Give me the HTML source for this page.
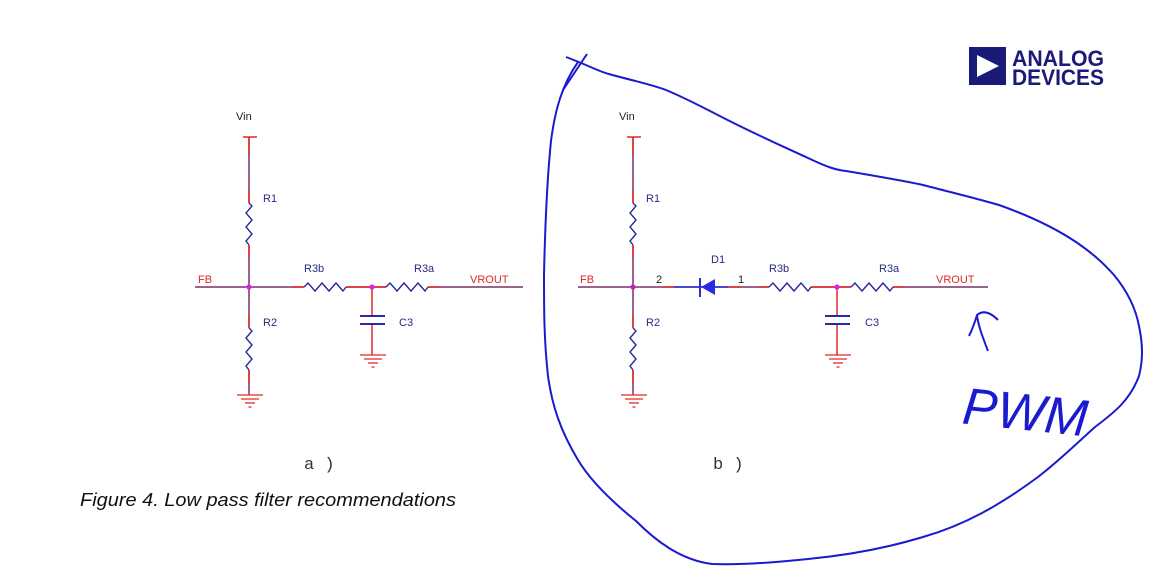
<!DOCTYPE html>
<html><head><meta charset="utf-8"><style>
html,body{margin:0;padding:0;background:#fff;}
svg{display:block;}
.s{font-family:"Liberation Sans",sans-serif;}
.m{font-family:"Liberation Mono",monospace;}
</style></head><body>
<svg width="1161" height="567" viewBox="0 0 1161 567" xmlns="http://www.w3.org/2000/svg">
<defs>
<g id="gnd" stroke="#e02828" stroke-width="1.3">
<line x1="-13" y1="0" x2="13" y2="0"/><line x1="-9" y1="4" x2="9" y2="4"/><line x1="-5" y1="8" x2="5" y2="8"/><line x1="-1.5" y1="12" x2="1.5" y2="12"/>
</g>
<path id="rv" d="M0,0 l3,3 l-6,7 l6,7 l-6,7 l6,7 l-6,7 l3,4" fill="none" stroke="#2a2aa0" stroke-width="1.4"/>
<path id="rh" d="M0,0 l4,-4 l7,8 l7,-8 l7,8 l7,-8 l7,8 l3,-4" fill="none" stroke="#2a2aa0" stroke-width="1.4"/>
</defs>

<!-- ===== a) ===== -->
<g>
<line x1="249" y1="137" x2="249" y2="203" stroke="#7a3068" stroke-width="1.5"/>
<line x1="249" y1="137" x2="249" y2="155" stroke="#e02828" stroke-width="1.5"/>
<line x1="249" y1="190" x2="249" y2="203" stroke="#e02828" stroke-width="1.5"/>
<line x1="243" y1="137" x2="257" y2="137" stroke="#e02828" stroke-width="1.5"/>
<use href="#rv" x="249" y="203"/>
<line x1="249" y1="245" x2="249" y2="328" stroke="#7a3068" stroke-width="1.5"/>
<line x1="249" y1="245" x2="249" y2="258" stroke="#e02828" stroke-width="1.5"/>
<line x1="249" y1="315" x2="249" y2="328" stroke="#e02828" stroke-width="1.5"/>
<use href="#rv" x="249" y="328"/>
<line x1="249" y1="370" x2="249" y2="395" stroke="#7a3068" stroke-width="1.5"/>
<line x1="249" y1="370" x2="249" y2="383" stroke="#e02828" stroke-width="1.5"/>
<use href="#gnd" x="250" y="395"/>
<line x1="195" y1="287" x2="523" y2="287" stroke="#7a3068" stroke-width="1.5"/>
<line x1="292" y1="287" x2="304" y2="287" stroke="#e02828" stroke-width="1.5"/>
<line x1="346" y1="287" x2="398" y2="287" stroke="#e02828" stroke-width="1.5"/>
<line x1="428" y1="287" x2="440" y2="287" stroke="#e02828" stroke-width="1.5"/>
<rect x="304" y="280" width="42" height="14" fill="#fff"/>
<use href="#rh" x="304" y="287"/>
<rect x="386" y="280" width="42" height="14" fill="#fff"/>
<use href="#rh" x="386" y="287"/>
<line x1="372" y1="287" x2="372" y2="316" stroke="#e02828" stroke-width="1.5"/>
<line x1="372" y1="324" x2="372" y2="355" stroke="#e02828" stroke-width="1.5"/>
<line x1="360" y1="316" x2="385" y2="316" stroke="#2a2aa0" stroke-width="2"/>
<line x1="360" y1="324" x2="385" y2="324" stroke="#2a2aa0" stroke-width="2"/>
<use href="#gnd" x="373" y="355"/>
<circle cx="249" cy="287" r="2.6" fill="#e020e0"/>
<circle cx="372" cy="287" r="2.6" fill="#e020e0"/>
<text class="s" x="236" y="120" font-size="11" fill="#222">Vin</text>
<text class="s" x="263" y="202" font-size="11" fill="#2a2a80">R1</text>
<text class="s" x="263" y="326" font-size="11" fill="#2a2a80">R2</text>
<text class="s" x="198" y="283" font-size="11" fill="#e02828">FB</text>
<text class="s" x="304" y="272" font-size="11" fill="#2a2a80">R3b</text>
<text class="s" x="414" y="272" font-size="11" fill="#2a2a80">R3a</text>
<text class="s" x="470" y="283" font-size="11" fill="#e02828">VROUT</text>
<text class="s" x="399" y="326" font-size="11" fill="#2a2a80">C3</text>
<text class="m" x="304" y="469" font-size="17" fill="#333">a )</text>
</g>

<text class="s" x="80" y="506" font-size="18" font-style="italic" fill="#111" textLength="376" lengthAdjust="spacingAndGlyphs">Figure 4. Low pass filter recommendations</text>

<!-- ===== b) ===== -->
<g>
<line x1="633" y1="137" x2="633" y2="203" stroke="#7a3068" stroke-width="1.5"/>
<line x1="633" y1="137" x2="633" y2="155" stroke="#e02828" stroke-width="1.5"/>
<line x1="633" y1="190" x2="633" y2="203" stroke="#e02828" stroke-width="1.5"/>
<line x1="627" y1="137" x2="641" y2="137" stroke="#e02828" stroke-width="1.5"/>
<use href="#rv" x="633" y="203"/>
<line x1="633" y1="245" x2="633" y2="328" stroke="#7a3068" stroke-width="1.5"/>
<line x1="633" y1="245" x2="633" y2="258" stroke="#e02828" stroke-width="1.5"/>
<line x1="633" y1="315" x2="633" y2="328" stroke="#e02828" stroke-width="1.5"/>
<use href="#rv" x="633" y="328"/>
<line x1="633" y1="370" x2="633" y2="395" stroke="#7a3068" stroke-width="1.5"/>
<line x1="633" y1="370" x2="633" y2="383" stroke="#e02828" stroke-width="1.5"/>
<use href="#gnd" x="634" y="395"/>
<line x1="578" y1="287" x2="988" y2="287" stroke="#7a3068" stroke-width="1.5"/>
<line x1="662" y1="287" x2="674" y2="287" stroke="#e02828" stroke-width="1.5"/>
<line x1="674" y1="287" x2="728" y2="287" stroke="#2a2ae0" stroke-width="1.5"/>
<line x1="728" y1="287" x2="740" y2="287" stroke="#e02828" stroke-width="1.5"/>
<line x1="758" y1="287" x2="769" y2="287" stroke="#e02828" stroke-width="1.5"/>
<line x1="811" y1="287" x2="862" y2="287" stroke="#e02828" stroke-width="1.5"/>
<line x1="893" y1="287" x2="905" y2="287" stroke="#e02828" stroke-width="1.5"/>
<path d="M715,279 L715,295 L701,287 Z" fill="#2a2ae0"/>
<line x1="700" y1="278" x2="700" y2="297" stroke="#2a2ae0" stroke-width="2"/>
<rect x="769" y="280" width="42" height="14" fill="#fff"/>
<use href="#rh" x="769" y="287"/>
<rect x="851" y="280" width="42" height="14" fill="#fff"/>
<use href="#rh" x="851" y="287"/>
<line x1="837" y1="287" x2="837" y2="316" stroke="#e02828" stroke-width="1.5"/>
<line x1="837" y1="324" x2="837" y2="355" stroke="#e02828" stroke-width="1.5"/>
<line x1="825" y1="316" x2="850" y2="316" stroke="#2a2aa0" stroke-width="2"/>
<line x1="825" y1="324" x2="850" y2="324" stroke="#2a2aa0" stroke-width="2"/>
<use href="#gnd" x="838" y="355"/>
<circle cx="633" cy="287" r="2.6" fill="#c020c0"/>
<circle cx="837" cy="287" r="2.6" fill="#e020e0"/>
<text class="s" x="619" y="120" font-size="11" fill="#222">Vin</text>
<text class="s" x="646" y="202" font-size="11" fill="#2a2a80">R1</text>
<text class="s" x="646" y="326" font-size="11" fill="#2a2a80">R2</text>
<text class="s" x="580" y="283" font-size="11" fill="#e02828">FB</text>
<text class="s" x="656" y="283" font-size="11" fill="#222">2</text>
<text class="s" x="711" y="263" font-size="11" fill="#2a2a80">D1</text>
<text class="s" x="738" y="283" font-size="11" fill="#222">1</text>
<text class="s" x="769" y="272" font-size="11" fill="#2a2a80">R3b</text>
<text class="s" x="879" y="272" font-size="11" fill="#2a2a80">R3a</text>
<text class="s" x="936" y="283" font-size="11" fill="#e02828">VROUT</text>
<text class="s" x="865" y="326" font-size="11" fill="#2a2a80">C3</text>
<text class="m" x="713" y="469" font-size="17" fill="#333">b )</text>
</g>

<!-- logo -->
<rect x="969" y="47" width="37" height="38" fill="#1a1a78"/>
<path d="M977,55 L999,66 L977,77 Z" fill="#fff"/>
<text class="s" x="1012" y="66" font-size="22" font-weight="bold" fill="#1a1a78" textLength="92" lengthAdjust="spacingAndGlyphs">ANALOG</text>
<text class="s" x="1012" y="85" font-size="22" font-weight="bold" fill="#1a1a78" textLength="92" lengthAdjust="spacingAndGlyphs">DEVICES</text>

<!-- hand drawn blob -->
<path d="M566,57 C590,66 600,72 609,74 C630,80 650,84 666,90 C685,98 700,106 712,112 C750,132 780,145 808,158 C825,166 835,170 846,171 C870,175 900,180 923,185 C950,192 975,198 999,205 C1030,216 1055,228 1076,242 C1095,255 1105,265 1114,275 C1128,292 1136,310 1139,326 C1143,345 1143,360 1139,376 C1130,400 1115,412 1095,427 C1075,445 1060,460 1038,477 C1000,505 965,525 923,537 C880,550 840,556 808,559 C770,563 740,565 712,564 C680,560 655,540 636,521 C610,500 590,480 578,460 C560,430 552,405 548,376 C544,340 544,310 544,275 C545,230 547,180 551,141 C555,110 562,85 578,62" fill="none" stroke="#1a1ad0" stroke-width="2"/>
<line x1="563" y1="90" x2="587" y2="54" stroke="#1a1ad0" stroke-width="2"/>

<!-- handwritten arrow -->
<path d="M988,351 C983,338 978,325 977,315 C983,310 990,312 998,320 M977,315 C974,325 971,332 969,336" fill="none" stroke="#1a1ad0" stroke-width="2"/>
<text class="s" x="962" y="430" font-size="52" fill="#1a1ad0" font-style="italic" transform="rotate(6 1025 420)" textLength="125" lengthAdjust="spacingAndGlyphs">PWM</text>
</svg>
</body></html>
